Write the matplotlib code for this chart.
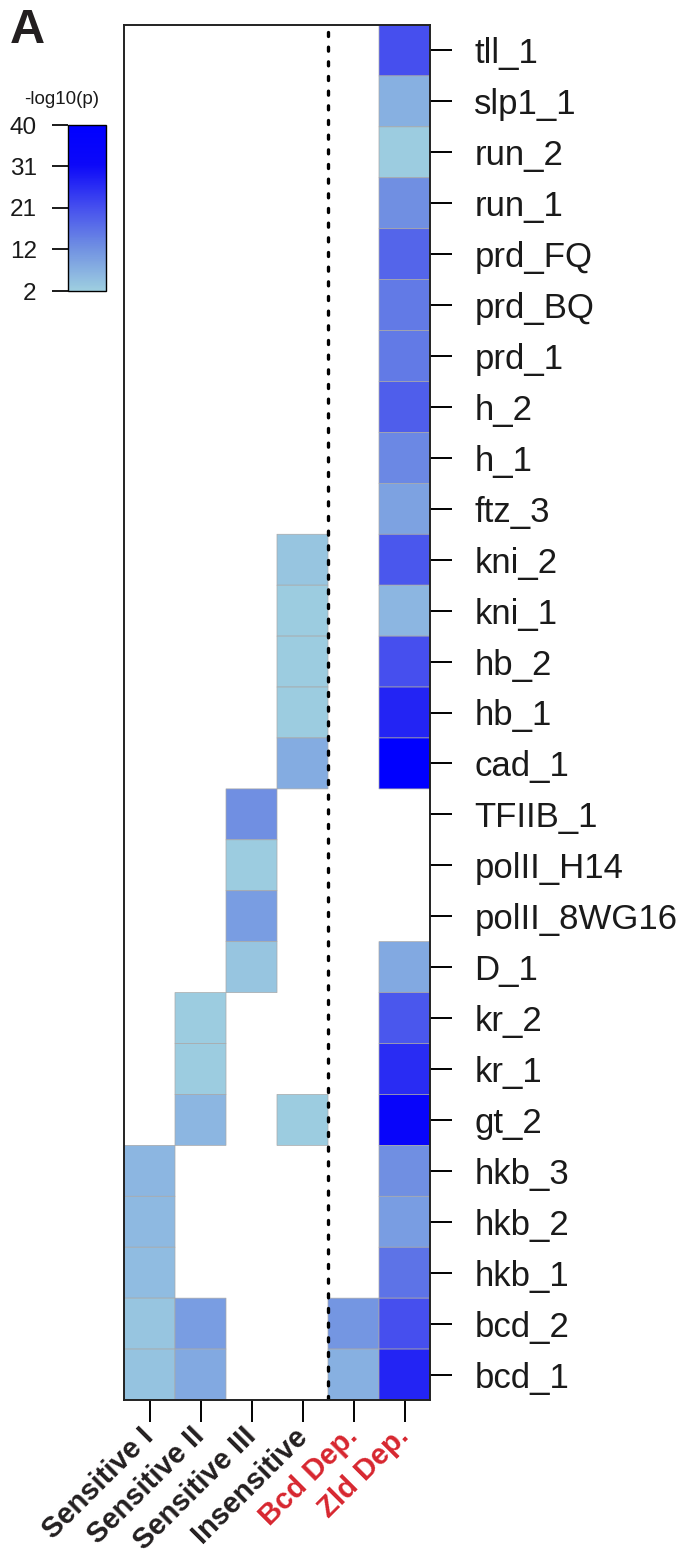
import numpy as np
import matplotlib
matplotlib.use('Agg')
import matplotlib.pyplot as plt
from matplotlib.colors import LinearSegmentedColormap, Normalize
from matplotlib.cm import ScalarMappable

plt.rcParams['font.family'] = ['Liberation Sans', 'DejaVu Sans']

# row labels, top to bottom
rows = ['tll_1', 'slp1_1', 'run_2', 'run_1', 'prd_FQ', 'prd_BQ', 'prd_1', 'h_2', 'h_1',
        'ftz_3', 'kni_2', 'kni_1', 'hb_2', 'hb_1', 'cad_1', 'TFIIB_1', 'polII_H14',
        'polII_8WG16', 'D_1', 'kr_2', 'kr_1', 'gt_2', 'hkb_3', 'hkb_2', 'hkb_1',
        'bcd_2', 'bcd_1']
cols = ['Sensitive I', 'Sensitive II', 'Sensitive III', 'Insensitive', 'Bcd Dep.', 'Zld Dep.']
col_colors = ['#231f20', '#231f20', '#231f20', '#231f20', '#d7262f', '#d7262f']

n = np.nan
# -log10(p) per column, NaN = not enriched
sens1 = [n]*22 + [6, 5.5, 5, 3.5, 4]
sens2 = [n]*19 + [2.5, 2.5, 6, n, n, n, 10, 8]
sens3 = [n]*15 + [12, 2.5, 10, 3.5] + [n]*8
insens = [n]*10 + [3.5, 2.5, 2.5, 2.5, 7.5] + [n]*6 + [2.5] + [n]*5
bcd_dep = [n]*25 + [11, 7]
zld_dep = [21, 7, 2.5, 12, 18, 15, 15, 19, 13, 9, 20, 6, 21, 27, 40,
           n, n, n, 8, 20, 26, 34, 12, 10, 16, 21, 27]

cbar_ticks = [2, 11.5, 21, 30.5, 40]
cbar_labels = ['2', '12', '21', '31', '40']

mat = np.array([sens1, sens2, sens3, insens, bcd_dep, zld_dep]).T
data = np.ma.masked_invalid(mat)

cmap = LinearSegmentedColormap.from_list(
    'pval', [(0.0, '#9ecfe0'), (0.26, '#7090e2'), (0.5, '#4650ee'),
             (0.76, '#0c08f8'), (1.0, '#0000ff')])
norm = Normalize(vmin=2, vmax=40)

fig = plt.figure(figsize=(6.9, 15.54), dpi=100)
ax = fig.add_axes([124/690, 1 - 1400/1554, 306/690, 1375/1554])

ax.pcolor(np.arange(len(cols) + 1), np.arange(len(rows) + 1), data,
          cmap=cmap, norm=norm, edgecolors='#a8a8a8', linewidth=0.5)
ax.set_xlim(0, len(cols))
ax.set_ylim(len(rows), 0)

# divider between chromatin classes and dependence columns
ax.axvline(4, color='black', lw=2.4, linestyle=(0, (1.2, 3.2)),
           dash_capstyle='round')

for s in ax.spines.values():
    s.set_linewidth(1.4)
    s.set_color('#222222')

ax.yaxis.tick_right()
ax.set_yticks(np.arange(len(rows)) + 0.5)
ax.set_yticklabels(rows, fontsize=25, color='#1a1a1a')
ax.tick_params(axis='y', length=16, width=1.4, pad=16)

ax.set_xticks(np.arange(len(cols)) + 0.5)
ax.set_xticklabels(cols, fontsize=21, fontweight='bold', rotation=45,
                   ha='right', va='center', rotation_mode='anchor')
ax.tick_params(axis='x', length=16, width=1.4, pad=7)
for lab, c in zip(ax.get_xticklabels(), col_colors):
    lab.set_color(c)

# color key
cax = fig.add_axes([68/690, 1 - 291/1554, 38/690, 166/1554])
cb = fig.colorbar(ScalarMappable(norm=norm, cmap=cmap), cax=cax)
cb.outline.set_linewidth(1.0)
cax.yaxis.set_ticks_position('left')
cb.set_ticks(cbar_ticks)
cb.set_ticklabels(cbar_labels)
cax.tick_params(length=11.5, width=1.4, pad=11, labelsize=17.5, colors='#1a1a1a')
fig.text(62/690, 1 - 100/1554, '-log10(p)', fontsize=13.5, ha='center',
         va='center', color='#1a1a1a')

fig.text(10/690, 1 - 43/1554, 'A', fontsize=35, fontweight='bold',
         color='#231f20', ha='left', va='baseline')

fig.savefig('out.png', dpi=100)
